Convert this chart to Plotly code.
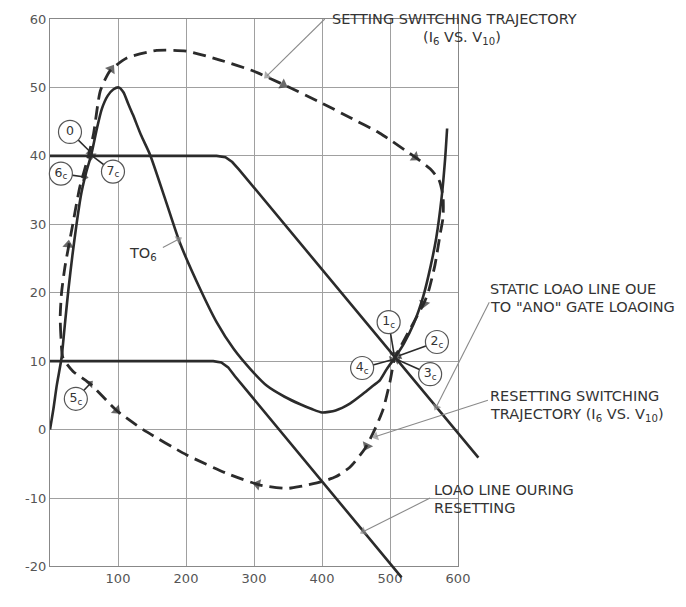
import plotly.graph_objects as go

# ---------------- data (V10 in mV, I6 in mA) ----------------
v_td6 = [0, 5, 10, 17, 22, 27, 33, 39, 46, 53, 61, 69, 76, 85, 93, 101, 108, 115, 122, 134,
         147, 170, 191, 221, 245, 270, 295, 319, 345, 368, 385, 400, 420, 441, 460, 475,
         485, 495, 507, 520, 535, 549, 560, 568, 576, 581, 584]
i_td6 = [0, 3, 6.5, 10.5, 15.5, 20.4, 25.5, 30, 34.5, 37.5, 40.3, 44, 46.8, 48.8, 49.7, 50,
         49.3, 47.6, 46, 43, 40.2, 33.5, 27.3, 20.5, 15.7, 11.8, 8.8, 6.4, 4.8, 3.7, 3, 2.5,
         2.8, 3.8, 5.2, 6.4, 7.2, 8.8, 10.5, 12.5, 15.5, 19.5, 24, 28, 34, 39.5, 44]

v_static = [0, 245, 258, 268, 278, 630]
i_static = [40, 40, 39.8, 39.1, 38.0, -4.1]

v_reset_load = [0, 240, 252, 262, 272, 517]
i_reset_load = [10, 10, 9.8, 9.1, 7.8, -21.6]

v_traj = [19, 16, 15, 17, 22, 32, 44, 56, 64, 74, 88, 113, 157, 201, 250, 299, 348, 400, 441,
          485, 537, 559, 572, 578, 578, 574, 566, 556, 549, 529, 516, 507, 500, 490, 478, 463,
          441, 420, 400, 368, 348, 309, 260, 201, 137, 98, 59, 34, 19]
i_traj = [10.5, 13.7, 16.5, 20, 23.8, 29.2, 35.5, 39.8, 43.2, 49.5, 52.4, 54.3, 55.4, 55.3, 54,
          52.4, 50.2, 47.7, 45.6, 43.3, 39.8, 38.1, 36.5, 34, 31, 28.7, 24, 20, 18.3, 14.6,
          12.2, 10.5, 7, 3, 0.1, -2.8, -5.5, -6.9, -7.6, -8.3, -8.6, -8.1, -6.4, -3.7, 0, 2.8,
          6.7, 8.5, 10.5]

x_ticks = [100, 200, 300, 400, 500, 600]
y_ticks = [-20, -10, 0, 10, 20, 30, 40, 50, 60]
y_ticktext = ["-20", "-10", "0", "10", "20", "30", "40", "50", "60"]

point_labels = ["0", "7<sub>c</sub>", "6<sub>c</sub>", "5<sub>c</sub>",
                "1<sub>c</sub>", "2<sub>c</sub>", "4<sub>c</sub>", "3<sub>c</sub>"]

# ---------------- style ----------------
INK = "#2b2b2b"
TXT = "#333333"
GRID = "#a0a0a0"
LEAD = "#8a8a8a"
FONT = "DejaVu Sans"

fig = go.Figure()

# empty trace so that the framed, gridded 0-600 / -20-60 axes are drawn
fig.add_trace(go.Scatter(x=[None], y=[None], xaxis="x", yaxis="y", mode="markers",
                         hoverinfo="skip"))

fig.add_trace(go.Scatter(x=v_static, y=i_static, mode="lines", xaxis="x2", yaxis="y2",
                         line=dict(color=INK, width=2.6), hoverinfo="skip"))
fig.add_trace(go.Scatter(x=v_reset_load, y=i_reset_load, mode="lines", xaxis="x2", yaxis="y2",
                         line=dict(color=INK, width=2.6), hoverinfo="skip"))
fig.add_trace(go.Scatter(x=v_td6, y=i_td6, mode="lines", xaxis="x2", yaxis="y2",
                         line=dict(color=INK, width=2.6, shape="spline", smoothing=0.6),
                         hoverinfo="skip"))
fig.add_trace(go.Scatter(x=v_traj, y=i_traj, mode="lines", xaxis="x2", yaxis="y2",
                         line=dict(color=INK, width=2.8, dash="13px,7px", shape="spline",
                                   smoothing=0.6), hoverinfo="skip"))


def arrow_trace(tail, tip, color, width, head, show_line):
    """Segment tail->tip (optionally invisible) with a filled arrowhead at the tip."""
    fig.add_trace(go.Scatter(
        x=[tail[0], tip[0]], y=[tail[1], tip[1]], xaxis="x2", yaxis="y2",
        mode="lines+markers" if show_line else "markers",
        line=dict(color=color, width=width),
        marker=dict(symbol="triangle-up", size=[0, head], color=color, angleref="previous",
                    line=dict(width=0)),
        cliponaxis=False, hoverinfo="skip"))


# circled point labels with their leaders
label_v = [29.4, 92.6, 16, 38, 498, 569, 459, 559]
label_i = [43.5, 37.7, 37.4, 4.5, 15.7, 12.8, 9.0, 8.1]
tip_v = [59, 62, 51, 59, 506, 513, 503, 511]
tip_i = [40.6, 40.0, 36.9, 6.7, 11.0, 10.8, 10.2, 10.2]

for lv, li, tv, ti in zip(label_v, label_i, tip_v, tip_i):
    arrow_trace((lv, li), (tv, ti), INK, 1.6, 8, True)

fig.add_trace(go.Scatter(x=label_v, y=label_i, mode="markers+text", xaxis="x2", yaxis="y2",
                         text=point_labels, textposition="middle center",
                         textfont=dict(family=FONT, size=12.5, color=TXT),
                         marker=dict(symbol="circle", size=23, color="white",
                                     line=dict(color="#555555", width=1.2)),
                         cliponaxis=False, hoverinfo="skip"))

# direction arrowheads along the switching trajectory
arrows = [((27, 27.0), (24, 24.2)), ((90, 52.7), (80, 51.2)), ((343, 50.4), (328, 51.2)),
          ((537, 39.8), (522, 40.9)), ((550, 18.4), (555, 20.2)), ((466, -2.4), (474, -0.8)),
          ((305, -8.0), (322, -8.4)), ((98, 2.8), (86, 3.9))]
for tip, tail in arrows:
    arrow_trace(tail, tip, INK, 1, 10, False)

# leader lines of the captions
leaders = [((319, 51.7), (404, 60.0)), ((568, 3.3), (646, 18.6)), ((479, -1.0), (644, 4.3)),
           ((461, -14.9), (559, -10.0)), ((189, 27.8), (166, 26.6))]
for tip, tail in leaders:
    arrow_trace(tail, tip, LEAD, 1.1, 8, True)

captions = [
    ("SETTING SWITCHING TRAJECTORY", 412, 60.0, "left"),
    ("(I<sub>6</sub> VS. V<sub>10</sub>)", 606, 57.2, "center"),
    ("STATIC LOAO LINE OUE", 644, 20.6, "left"),
    ("TO \"ANO\" GATE LOAOING", 644, 17.9, "left"),
    ("RESETTING SWITCHING", 644, 4.9, "left"),
    ("TRAJECTORY (I<sub>6</sub> VS. V<sub>10</sub>)", 644, 2.2, "left"),
    ("LOAO LINE OURING", 562, -8.8, "left"),
    ("RESETTING", 562, -11.5, "left"),
    ("TO<sub>6</sub>", 137, 25.6, "center"),
]
for txt, cv, ci, anc in captions:
    fig.add_annotation(x=cv, y=ci, xref="x2", yref="y2", text=txt, showarrow=False,
                       xanchor=anc, yanchor="middle",
                       font=dict(family=FONT, size=14.5, color=TXT))

# axis titles
fig.add_annotation(x=291, y=-24.6, xref="x2", yref="y2", text="VOLTAGE  V<sub>10</sub> – mv",
                   showarrow=False, xanchor="center", yanchor="middle",
                   font=dict(family=FONT, size=15, color=TXT))
fig.add_annotation(x=-51, y=22.2, xref="x2", yref="y2", text="CURRENT – ma", textangle=-90,
                   showarrow=False, xanchor="center", yanchor="middle",
                   font=dict(family=FONT, size=15, color=TXT))

fig.update_layout(
    width=686, height=607,
    margin=dict(l=50, r=194, t=17, b=18),
    paper_bgcolor="white", plot_bgcolor="rgba(0,0,0,0)",
    showlegend=False,
    xaxis=dict(domain=[0, 600 / 650], range=[0, 600], anchor="y", tickvals=x_ticks,
               ticks="", showgrid=True, gridcolor=GRID, gridwidth=1.2, zeroline=False,
               showline=True, linecolor="#888888", linewidth=1.3, mirror=True,
               tickfont=dict(family=FONT, size=13, color="#555555"), fixedrange=True),
    yaxis=dict(domain=[3 / 83, 1], range=[-20, 60], anchor="x", tickvals=y_ticks,
               ticktext=y_ticktext, ticks="", showgrid=True, gridcolor=GRID, gridwidth=1.2,
               zeroline=False, showline=True, linecolor="#888888", linewidth=1.3, mirror=True,
               tickfont=dict(family=FONT, size=13, color="#555555"), fixedrange=True),
    xaxis2=dict(domain=[0, 1], range=[0, 650], anchor="y2", visible=False, fixedrange=True),
    yaxis2=dict(domain=[0, 1], range=[-23, 60], anchor="x2", visible=False, fixedrange=True),
)

fig.write_html("out.html")
